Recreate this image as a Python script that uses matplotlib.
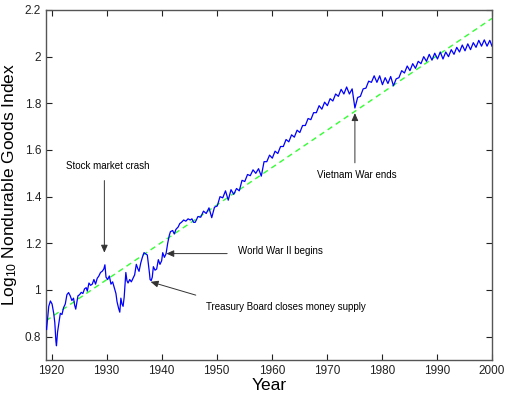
import matplotlib
matplotlib.use("Agg")
import matplotlib.pyplot as plt

plt.rcParams['font.family'] = ['Liberation Sans', 'DejaVu Sans']
plt.rcParams['mathtext.fontset'] = 'custom'
plt.rcParams['mathtext.rm'] = 'Liberation Sans'
plt.rcParams['mathtext.it'] = 'Liberation Sans:italic'

# === data ===
# 1919-1945: irregular samples (year, log10 index)
early_years = [1919.0, 1919.1, 1919.3, 1919.5, 1919.8, 1920.1, 1920.4, 1920.6, 1920.8, 1920.9,
               1921.1, 1921.4, 1921.6, 1921.9, 1922.2, 1922.5, 1922.8, 1923.1, 1923.4, 1923.7,
               1924.0, 1924.2, 1924.4, 1924.8, 1925.1, 1925.4, 1925.7, 1926.0, 1926.3, 1926.5,
               1926.8, 1927.1, 1927.4, 1927.7, 1928.0, 1928.3, 1928.6, 1928.9, 1929.2, 1929.5,
               1929.7, 1929.9, 1930.2, 1930.5, 1930.8, 1931.1, 1931.4, 1931.7, 1931.9, 1932.2,
               1932.4, 1932.6, 1932.8, 1933.0, 1933.2, 1933.5, 1933.7, 1933.9, 1934.2, 1934.5,
               1934.8, 1935.1, 1935.4, 1935.7, 1935.9, 1936.2, 1936.5, 1936.8, 1937.1, 1937.4,
               1937.6, 1937.8, 1937.9, 1938.1, 1938.3, 1938.5, 1938.8, 1939.1, 1939.4, 1939.7,
               1940.0, 1940.2, 1940.5, 1940.8, 1941.1, 1941.4, 1941.6, 1942.0, 1942.3, 1942.6,
               1943.0, 1943.3, 1943.6, 1944.0, 1944.4, 1944.8, 1945.2, 1945.5, 1945.8]
early_vals = [0.84, 0.83, 0.88, 0.93, 0.953, 0.94, 0.90, 0.86, 0.78, 0.761,
              0.82, 0.87, 0.90, 0.895, 0.925, 0.94, 0.98, 0.989, 0.975, 0.955,
              0.965, 0.935, 0.918, 0.975, 0.98, 0.99, 0.985, 1.005, 1.01, 0.995,
              1.03, 1.02, 1.025, 1.045, 1.025, 1.05, 1.06, 1.075, 1.08, 1.09,
              1.108, 1.055, 1.045, 1.06, 1.025, 1.035, 1.01, 0.985, 0.95, 0.92,
              0.905, 0.965, 0.94, 0.93, 0.97, 1.075, 1.04, 1.03, 1.045, 1.035,
              1.05, 1.065, 1.11, 1.09, 1.08, 1.115, 1.14, 1.16, 1.155, 1.15,
              1.11, 1.07, 1.045, 1.04, 1.055, 1.10, 1.085, 1.09, 1.13, 1.11,
              1.125, 1.16, 1.14, 1.155, 1.20, 1.235, 1.25, 1.255, 1.24, 1.26,
              1.27, 1.285, 1.29, 1.30, 1.295, 1.305, 1.30, 1.305, 1.29]

# 1946-1999: seasonal low / high of each year
season_years = list(range(1946, 2000))
season_lows = [1.29, 1.312, 1.328, 1.31, 1.36, 1.395, 1.385, 1.41, 1.425, 1.465,
               1.49, 1.50, 1.488, 1.55, 1.565, 1.585, 1.615, 1.635, 1.655, 1.675,
               1.705, 1.73, 1.76, 1.775, 1.79, 1.81, 1.83, 1.84, 1.84, 1.78,
               1.83, 1.865, 1.89, 1.89, 1.88, 1.885, 1.875, 1.91, 1.93, 1.94,
               1.95, 1.97, 1.98, 1.985, 1.99, 1.99, 2.0, 2.01, 2.02, 2.025,
               2.03, 2.04, 2.045, 2.045]
season_highs = [1.315, 1.338, 1.352, 1.355, 1.40, 1.425, 1.43, 1.435, 1.47, 1.495,
                1.515, 1.52, 1.55, 1.578, 1.595, 1.615, 1.645, 1.665, 1.685, 1.705,
                1.735, 1.76, 1.79, 1.805, 1.82, 1.84, 1.86, 1.87, 1.862, 1.825,
                1.862, 1.895, 1.918, 1.918, 1.91, 1.915, 1.905, 1.94, 1.96, 1.97,
                1.98, 2.0, 2.01, 2.015, 2.02, 2.02, 2.03, 2.04, 2.05, 2.055,
                2.06, 2.07, 2.072, 2.07]
end_year, end_val = 2000.0, 2.045

# log-linear trend endpoints
trend_years = [1919, 2000]
trend_vals = [0.868, 2.164]

x_ticks = [1920, 1930, 1940, 1950, 1960, 1970, 1980, 1990, 2000]
y_ticks = [0.8, 1.0, 1.2, 1.4, 1.6, 1.8, 2.0, 2.2]
y_ticklabels = ['0.8', '1', '1.2', '1.4', '1.6', '1.8', '2', '2.2']

# build the full series
t = list(early_years)
v = list(early_vals)
for yr, lo, hi in zip(season_years, season_lows, season_highs):
    t += [yr + 0.1, yr + 0.6]
    v += [lo, hi]
t.append(end_year)
v.append(end_val)

fig = plt.figure(figsize=(5.07, 3.96), dpi=100)
ax = fig.add_axes([46 / 507, 1 - 360 / 396, 446 / 507, 350 / 396])

ax.plot(t, v, color='#0000ff', linewidth=0.9, zorder=3)
ax.plot(trend_years, trend_vals, color='#33ff33', linestyle=(0, (4, 3)), linewidth=1.0, zorder=2)

ax.set_xlim(1919, 2000)
ax.set_ylim(0.7, 2.2)
ax.set_xticks(x_ticks)
ax.set_yticks(y_ticks)
ax.set_yticklabels(y_ticklabels)
ax.tick_params(direction='in', length=4, width=0.8, labelsize=8.5, top=True, right=True, colors='#222')
for s in ax.spines.values():
    s.set_color('#555')
    s.set_linewidth(1.0)

ax.set_xlabel('Year', fontsize=12.5, labelpad=1)
ax.set_ylabel('Log$_{10}$ Nondurable Goods Index', fontsize=12.5, labelpad=4)

# annotations
arrow = dict(arrowstyle='-|>,head_length=0.45,head_width=0.2', color='#333', lw=0.7,
             mutation_scale=10, shrinkA=0, shrinkB=0)
ax.annotate('', xy=(1929.6, 1.16), xytext=(1929.6, 1.469), arrowprops=arrow)
ax.text(1922.7, 1.530, 'Stock market crash', fontsize=7, ha='left', va='center')

ax.annotate('', xy=(1940.85, 1.156), xytext=(1951.9, 1.156), arrowprops=arrow)
ax.text(1953.9, 1.167, 'World War II begins', fontsize=7, ha='left', va='center')

ax.annotate('', xy=(1938.0, 1.035), xytext=(1946.2, 0.978), arrowprops=arrow)
ax.text(1948.1, 0.929, 'Treasury Board closes money supply', fontsize=7, ha='left', va='center')

ax.annotate('', xy=(1975.1, 1.758), xytext=(1975.1, 1.545), arrowprops=arrow)
ax.text(1975.4, 1.492, 'Vietnam War ends', fontsize=7, ha='center', va='center')

fig.savefig('out.png', dpi=100)
